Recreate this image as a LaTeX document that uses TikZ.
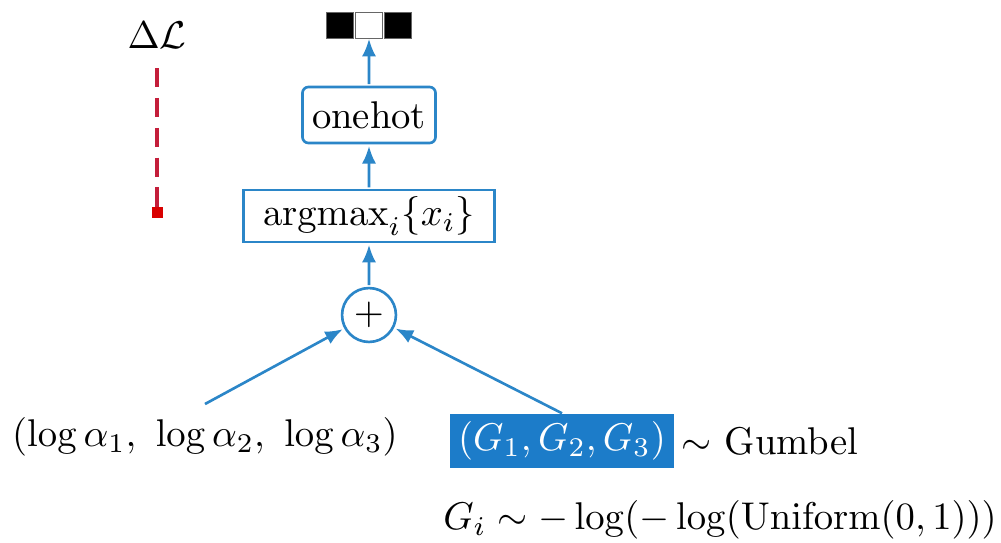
\documentclass[tikz,border=0pt]{standalone}
\usepackage{amsmath}
\usepackage{tikz}
\usetikzlibrary{arrows.meta, positioning, calc}
\definecolor{gsblue}{HTML}{1C7CC9}
\definecolor{gsline}{HTML}{2B86C8}
\definecolor{gsred}{HTML}{C41E3A}

\begin{document}
\begin{tikzpicture}[
  every node/.style={scale=2.2},
  opbox/.style={rectangle, draw=gsline, line width=1.5pt,
    fill=white, inner sep=1pt, align=center},
  sumnode/.style={circle, draw=gsline, line width=1.5pt,
    minimum size=0.49cm, inner sep=0pt},
  cell/.style={rectangle, draw=black!60, line width=0.4pt,
    minimum width=0.25cm, minimum height=0.236cm, inner sep=0pt},
  arr/.style={-{Latex[length=10pt,width=8pt]}, line width=1.5pt, color=gsline}
]
  \useasboundingbox (0,0) rectangle (20.02,10.84);

  % one-hot output
  \node[cell, fill=white] (cmid) at (7.38,10.34) {};
  \node[cell, fill=black, left=0pt of cmid] (cleft) {};
  \node[cell, fill=black, right=0pt of cmid] (cright) {};

  \node[opbox, rounded corners=3.5pt, minimum width=1.21cm,
    minimum height=0.51cm] (onehot) at (7.38,8.54) {onehot};
  \node[opbox, minimum width=2.28cm, minimum height=0.47cm]
    (argmax) at (7.38,6.52) {$\mathrm{argmax}_i\{x_i\}$};
  \node[sumnode] (plus) at (7.38,4.54) {$+$};

  \node (logits) at (4.1,2.1)
    {$(\log\alpha_1,\ \log\alpha_2,\ \log\alpha_3)$};
  \node[fill=gsblue, text=white, minimum width=2.04cm,
    minimum height=0.49cm, inner sep=1pt] (noise) at (11.24,2.02)
    {$(G_1,G_2,G_3)$};
  \node[anchor=west, inner sep=0pt] (gumbel) at (13.62,2.02)
    {$\sim$ Gumbel};
  \node (gdef) at (14.4,0.44)
    {$G_i\sim-\log(-\log(\mathrm{Uniform}(0,1)))$};

  % loss, no gradient path
  \node (loss) at (3.14,10.14) {$\Delta\mathcal{L}$};
  \coordinate (lossend) at (3.14,6.6);
  \draw[gsred, line width=2.2pt, dash pattern=on 11pt off 6pt]
    (3.14,9.48) -- (lossend);
  \fill[red!85!black] ($(lossend)+(-0.11,-0.11)$) rectangle ($(lossend)+(0.11,0.11)$);

  \draw[arr] (logits.north) -- (plus);
  \draw[arr] (noise.north) -- (plus);
  \draw[arr] (plus) -- (argmax);
  \draw[arr] (argmax) -- (onehot);
  \draw[arr] (onehot) -- (cmid);
\end{tikzpicture}
\end{document}
